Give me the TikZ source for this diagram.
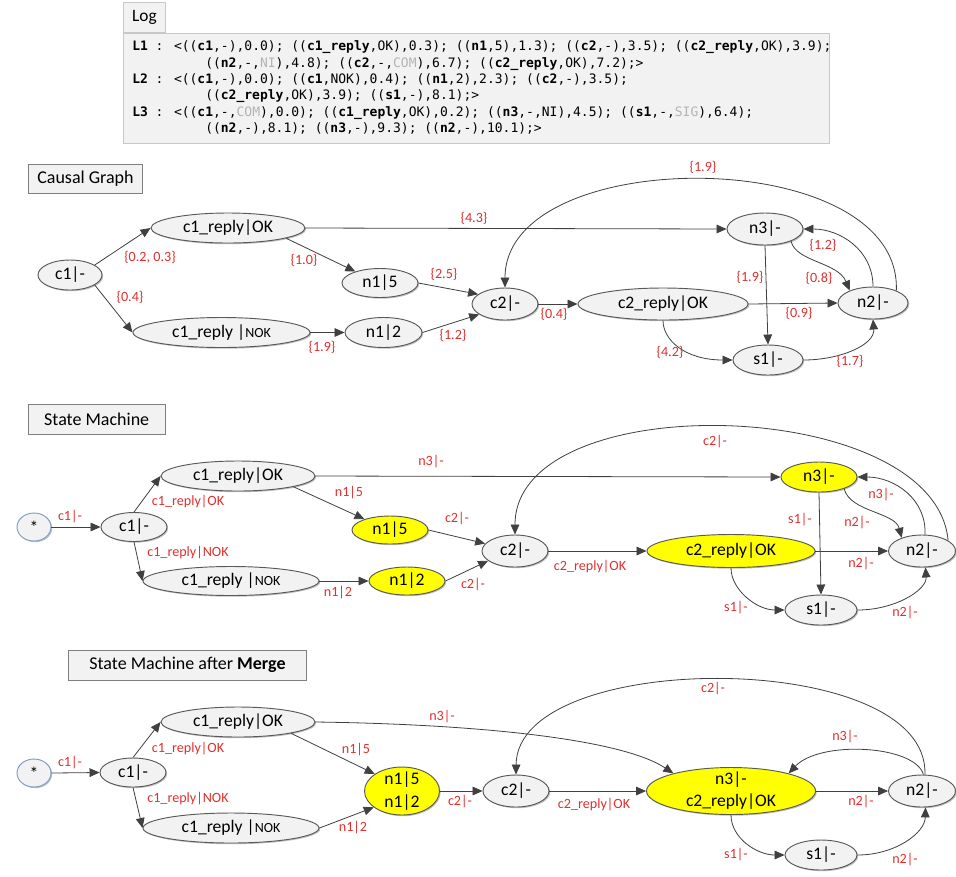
\documentclass[tikz,border=0pt]{standalone}
\usepackage{fontspec}
\setmainfont{Carlito}
\newfontfamily\logfont{DejaVu Sans Mono}
\usetikzlibrary{arrows.meta,shapes.geometric,shadows}
\definecolor{nodefill}{HTML}{F2F2F2}
\definecolor{nodeline}{HTML}{595959}
\definecolor{edgecol}{HTML}{404040}
\definecolor{lblred}{HTML}{E0302E}
\definecolor{starline}{HTML}{7F9BC9}
\definecolor{hilite}{HTML}{FFFF00}
\definecolor{logfill}{HTML}{F2F2F2}
\definecolor{logedge}{HTML}{C8C8C8}
\definecolor{titleline}{HTML}{7F7F7F}
\definecolor{faint}{HTML}{B4B4B4}
\newcommand{\gr}[1]{\textcolor{faint}{#1}}
\newcommand{\smallnok}{{\fontsize{10.5}{12}\selectfont NOK}}
\begin{document}
\begin{tikzpicture}[x=0.75pt, y=0.75pt,
  st/.style={ellipse, draw=nodeline, fill=nodefill, line width=0.7pt, inner sep=0pt,
    font=\fontsize{13.2}{16}\selectfont,
    drop shadow={shadow xshift=0.9pt, shadow yshift=-0.9pt, opacity=0.25, fill=black}},
  hl/.style={st, fill=hilite},
  init/.style={st, draw=starline},
  sz/.style 2 args={minimum width=#1*0.75pt, minimum height=#2*0.75pt},
  title/.style={draw=titleline, fill=nodefill, line width=0.7pt, inner sep=0pt,
    font=\fontsize{13.5}{16}\selectfont},
  lbl/.style={text=lblred, inner sep=0pt, font=\fontsize{10.6}{12}\selectfont},
  arr/.style={draw=edgecol, line width=0.6pt, -{Triangle[length=7.5pt,width=6.5pt]}},
  logtext/.style={anchor=base west, inner sep=0pt, font=\logfont\fontsize{9.75}{12}\selectfont},
]
% canvas
\fill[white] (0,0) rectangle (956,-876);
\useasboundingbox (0,0) rectangle (956,-876);

% ---------------- log panel ----------------
\node[draw=logedge, fill=logfill, line width=0.6pt, inner sep=0pt, anchor=north west,
      sz={706}{110}] (logbox) at (123,-33) {};
\node[draw=logedge, fill=logfill, line width=0.6pt, inner sep=0pt, anchor=south west,
      sz={42}{30}, font=\fontsize{13}{16}\selectfont] (logtab) at (123,-33) {Log};
\node[logtext] (l1a) at (132,-50.7) {\textbf{L1} : <((\textbf{c1},-),0.0); ((\textbf{c1\_reply},OK),0.3); ((\textbf{n1},5),1.3); ((\textbf{c2},-),3.5); ((\textbf{c2\_reply},OK),3.9);};
\node[logtext] (l1b) at (205,-67.1) {((\textbf{n2},-,\gr{NI}),4.8); ((\textbf{c2},-,\gr{COM}),6.7); ((\textbf{c2\_reply},OK),7.2);>};
\node[logtext] (l2a) at (132,-83.5) {\textbf{L2} : <((\textbf{c1},-),0.0); ((\textbf{c1},NOK),0.4); ((\textbf{n1},2),2.3); ((\textbf{c2},-),3.5);};
\node[logtext] (l2b) at (205,-99.9) {((\textbf{c2\_reply},OK),3.9); ((\textbf{s1},-),8.1);>};
\node[logtext] (l3a) at (132,-116.3) {\textbf{L3} : <((\textbf{c1},-,\gr{COM}),0.0); ((\textbf{c1\_reply},OK),0.2); ((\textbf{n3},-,NI),4.5); ((\textbf{s1},-,\gr{SIG}),6.4);};
\node[logtext] (l3b) at (205,-132.7) {((\textbf{n2},-),8.1); ((\textbf{n3},-),9.3); ((\textbf{n2},-),10.1);>};

% ---------------- causal graph ----------------
\node[title, sz={114}{29}] (tA) at (85.5,-178.7) {Causal Graph};
\node[st, sz={64}{30}] (c1a) at (70,-275) {c1|-};
\node[st, sz={154}{30}] (okA) at (228,-228) {c1\_reply|OK};
\node[st, sz={177}{30}] (nokA) at (221.5,-332.5) {c1\_reply |\smallnok};
\node[st, sz={76}{29}] (n15A) at (380,-283) {n1|5};
\node[st, sz={77}{30}] (n12A) at (383.5,-332.5) {n1|2};
\node[st, sz={66}{32}] (c2A) at (505,-304) {c2|-};
\node[st, sz={170}{32}] (c2rA) at (663,-304) {c2\_reply|OK};
\node[st, sz={76}{32}] (n3A) at (765,-229) {n3|-};
\node[st, sz={70}{32}] (n2A) at (873,-303) {n2|-};
\node[st, sz={70}{30}] (s1A) at (768,-360) {s1|-};

\draw[arr] (c1a.22) -- (okA.west);
\draw[arr] (c1a.-22) -- (nokA.west);
\draw[arr] (okA.-10) -- (n15A.155);
\draw[arr] (nokA.east) -- (n12A.west);
\draw[arr] (n15A.east) -- (c2A.160);
\draw[arr] (n12A.east) -- (c2A.-158);
\draw[arr] (okA.east) -- (n3A.west);
\draw[arr] (c2A.east) -- (c2rA.west);
\draw[arr] (c2rA.east) -- (n2A.west);
\draw[arr] (n3A.south) -- (s1A.north);
\draw[arr] (c2rA.south) .. controls (663,-340) and (685,-360) .. (s1A.west);
\draw[arr] (s1A.east) .. controls (840,-360) and (875,-345) .. (n2A.south);
\draw[arr] (n3A.-25) .. controls (796,-262) and (838,-262) .. (n2A.152);
\draw[arr] (n2A.north) .. controls (873,-250) and (840,-229) .. (n3A.east);
\draw[arr] (n2A.28) .. controls (902,-143) and (505,-143) .. (c2A.north);

\node[lbl] (wA1) at (150,-257) {\{0.2, 0.3\}};
\node[lbl] (wA2) at (130,-297) {\{0.4\}};
\node[lbl] (wA3) at (304,-260) {\{1.0\}};
\node[lbl] (wA4) at (444,-274) {\{2.5\}};
\node[lbl] (wA5) at (322,-347) {\{1.9\}};
\node[lbl] (wA6) at (453,-335) {\{1.2\}};
\node[lbl] (wA7) at (474,-218) {\{4.3\}};
\node[lbl] (wA8) at (703,-167) {\{1.9\}};
\node[lbl] (wA9) at (823,-245) {\{1.2\}};
\node[lbl] (wA10) at (819,-278) {\{0.8\}};
\node[lbl] (wA11) at (750,-277) {\{1.9\}};
\node[lbl] (wA12) at (554,-314) {\{0.4\}};
\node[lbl] (wA13) at (799,-313) {\{0.9\}};
\node[lbl] (wA14) at (670,-352) {\{4.2\}};
\node[lbl] (wA15) at (850,-361) {\{1.7\}};

% ---------------- state machine ----------------
\node[title, sz={137}{30}] (tB) at (96.7,-419) {State Machine};
\node[init, sz={34}{28}] (startB) at (34,-527) {*};
\node[st, sz={66}{29}] (c1B) at (134,-527) {c1|-};
\node[st, sz={154}{30}] (okB) at (238,-476) {c1\_reply|OK};
\node[st, sz={176}{29}] (nokB) at (231,-581) {c1\_reply |\smallnok};
\node[hl, sz={76}{28}] (n15B) at (390,-530) {n1|5};
\node[hl, sz={76}{28}] (n12B) at (407,-581) {n1|2};
\node[st, sz={66}{32}] (c2B) at (515,-551) {c2|-};
\node[hl, sz={168}{33}] (c2rB) at (731,-551) {c2\_reply|OK};
\node[hl, sz={76}{30}] (n3B) at (819,-477) {n3|-};
\node[st, sz={67}{32}] (n2B) at (922,-551) {n2|-};
\node[st, sz={72}{30}] (s1B) at (821,-610) {s1|-};

\draw[arr] (startB.east) -- (c1B.west);
\draw[arr] (c1B.north) -- (okB.west);
\draw[arr] (c1B.south) -- (nokB.west);
\draw[arr] (okB.-11) -- (n15B.157);
\draw[arr] (nokB.east) -- (n12B.west);
\draw[arr] (n15B.east) -- (c2B.166);
\draw[arr] (n12B.east) -- (c2B.-160);
\draw[arr] (okB.east) -- (n3B.west);
\draw[arr] (c2B.east) -- (c2rB.west);
\draw[arr] (c2rB.east) -- (n2B.west);
\draw[arr] (n3B.south) -- (s1B.north);
\draw[arr] (c2rB.south) .. controls (731,-590) and (757,-610) .. (s1B.west);
\draw[arr] (s1B.east) .. controls (895,-610) and (927,-590) .. (n2B.-78);
\draw[arr] (n3B.-25) .. controls (850,-512) and (895,-512) .. (n2B.147);
\draw[arr] (n2B.80) .. controls (927,-500) and (895,-477) .. (n3B.east);
\draw[arr] (n2B.22) .. controls (935,-395) and (515,-385) .. (c2B.north);

\node[lbl] (tB1) at (70,-517) {c1|-};
\node[lbl] (tB2) at (188,-502) {c1\_reply|OK};
\node[lbl] (tB3) at (188,-553) {c1\_reply|NOK};
\node[lbl] (tB4) at (349,-493) {n1|5};
\node[lbl] (tB5) at (431,-462) {n3|-};
\node[lbl] (tB6) at (457,-519) {c2|-};
\node[lbl] (tB7) at (473,-585) {c2|-};
\node[lbl] (tB8) at (338,-593) {n1|2};
\node[lbl] (tB9) at (715,-442) {c2|-};
\node[lbl] (tB10) at (881,-495) {n3|-};
\node[lbl] (tB11) at (800,-520) {s1|-};
\node[lbl] (tB12) at (857,-523) {n2|-};
\node[lbl] (tB13) at (590,-567) {c2\_reply|OK};
\node[lbl] (tB14) at (861,-564) {n2|-};
\node[lbl] (tB15) at (736,-608) {s1|-};
\node[lbl] (tB16) at (905,-613) {n2|-};

% ---------------- state machine after merge ----------------
\node[title, sz={238}{30}] (tC) at (187.5,-665) {State Machine after \textbf{Merge}};
\node[init, sz={34}{28}] (startC) at (34,-773) {*};
\node[st, sz={66}{29}] (c1C) at (133,-772.5) {c1|-};
\node[st, sz={154}{30}] (okC) at (238,-722) {c1\_reply|OK};
\node[st, sz={176}{30}] (nokC) at (231,-828) {c1\_reply |\smallnok};
\node[hl, sz={75}{48}, inner sep=-4pt, align=center, font=\fontsize{13.2}{17.5}\selectfont] (mC) at (402,-791) {n1|5\\n1|2};
\node[st, sz={66}{32}] (c2C) at (516,-791) {c2|-};
\node[hl, sz={169}{47}, inner sep=-4pt, align=center, font=\fontsize{13.2}{16.5}\selectfont] (bigC) at (731,-791) {n3|-\\c2\_reply|OK};
\node[st, sz={67}{32}] (n2C) at (922,-791) {n2|-};
\node[st, sz={72}{30}] (s1C) at (821,-855) {s1|-};

\draw[arr] (startC.east) -- (c1C.west);
\draw[arr] (c1C.north) -- (okC.west);
\draw[arr] (c1C.south) -- (nokC.west);
\draw[arr] (okC.-12) -- (mC.148);
\draw[arr] (nokC.east) -- (mC.-150);
\draw[arr] (mC.east) -- (c2C.west);
\draw[arr] (c2C.east) -- (bigC.west);
\draw[arr] (bigC.east) -- (n2C.west);
\draw[arr] (okC.east) .. controls (470,-724) and (620,-738) .. (bigC.163);
\draw[arr] (bigC.south) .. controls (731,-838) and (757,-855) .. (s1C.west);
\draw[arr] (s1C.east) .. controls (895,-855) and (925,-833) .. (n2C.-78);
\draw[arr] (n2C.85) .. controls (915,-745) and (820,-740) .. (bigC.17);
\draw[arr] (n2C.80) .. controls (930,-648) and (517,-648) .. (c2C.north);

\node[lbl] (tC1) at (70,-763) {c1|-};
\node[lbl] (tC2) at (188,-749) {c1\_reply|OK};
\node[lbl] (tC3) at (188,-799) {c1\_reply|NOK};
\node[lbl] (tC4) at (356,-750) {n1|5};
\node[lbl] (tC5) at (353,-828) {n1|2};
\node[lbl] (tC6) at (460,-802) {c2|-};
\node[lbl] (tC7) at (442,-717) {n3|-};
\node[lbl] (tC8) at (713,-689) {c2|-};
\node[lbl] (tC9) at (845,-737) {n3|-};
\node[lbl] (tC10) at (594,-805) {c2\_reply|OK};
\node[lbl] (tC11) at (861,-802) {n2|-};
\node[lbl] (tC12) at (736,-855) {s1|-};
\node[lbl] (tC13) at (905,-860) {n2|-};
\end{tikzpicture}
\end{document}
